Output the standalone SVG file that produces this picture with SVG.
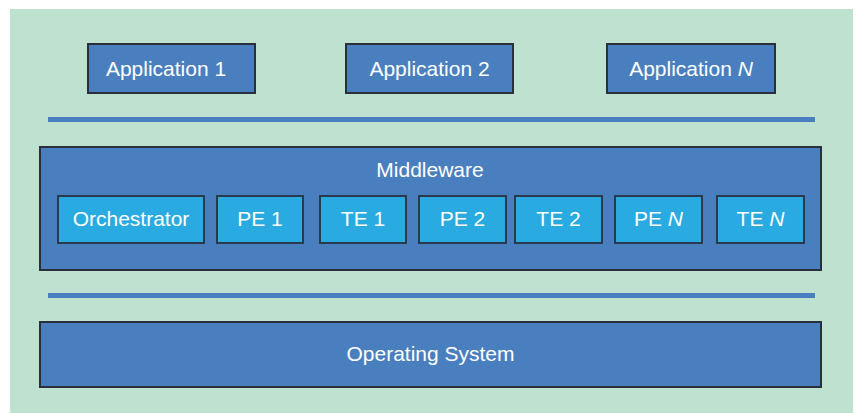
<svg xmlns="http://www.w3.org/2000/svg" width="857" height="413" viewBox="0 0 857 413">
<style>
.box{fill:#4A7FBF;stroke:#2B2F3A;stroke-width:2}
.inner{fill:#29ABE2;stroke:#2B3A4A;stroke-width:2}
.bar{stroke:#4A7FBF;stroke-width:5}
text{font-family:"Liberation Sans",Arial,sans-serif;font-size:21px;fill:#FFFFFF;text-anchor:middle}
</style>
<rect x="0" y="0" width="857" height="413" fill="#FFFFFF"/>
<rect x="10" y="9" width="843" height="404" fill="#BFE2D0"/>
<g id="connectors">
<line class="bar" x1="48" y1="119.5" x2="815" y2="119.5"/>
<line class="bar" x1="48" y1="295.5" x2="815" y2="295.5"/>
</g>
<g id="app1"><rect class="box" x="88" y="44" width="167" height="49"/><text x="166" y="75.5">Application 1</text></g>
<g id="app2"><rect class="box" x="346" y="44" width="167" height="49"/><text x="429.5" y="75.5">Application 2</text></g>
<g id="appN"><rect class="box" x="607" y="44" width="168" height="49"/><text x="691" y="75.5">Application <tspan font-style="italic">N</tspan></text></g>
<g id="middleware"><rect class="box" x="40" y="147" width="781" height="123"/><text x="430" y="177">Middleware</text></g>
<g id="orchestrator"><rect class="inner" x="58" y="196" width="146" height="47"/><text x="131" y="226">Orchestrator</text></g>
<g id="pe1"><rect class="inner" x="217" y="196" width="86" height="47"/><text x="260" y="226">PE 1</text></g>
<g id="te1"><rect class="inner" x="320" y="196" width="86" height="47"/><text x="363" y="226">TE 1</text></g>
<g id="pe2"><rect class="inner" x="419" y="196" width="87" height="47"/><text x="462.5" y="226">PE 2</text></g>
<g id="te2"><rect class="inner" x="515" y="196" width="87" height="47"/><text x="558.5" y="226">TE 2</text></g>
<g id="peN"><rect class="inner" x="615" y="196" width="87" height="47"/><text x="658.5" y="226">PE <tspan font-style="italic">N</tspan></text></g>
<g id="teN"><rect class="inner" x="717" y="196" width="87" height="47"/><text x="760.5" y="226">TE <tspan font-style="italic">N</tspan></text></g>
<g id="os"><rect class="box" x="40" y="322" width="781" height="65"/><text x="430.5" y="361">Operating System</text></g>
</svg>
